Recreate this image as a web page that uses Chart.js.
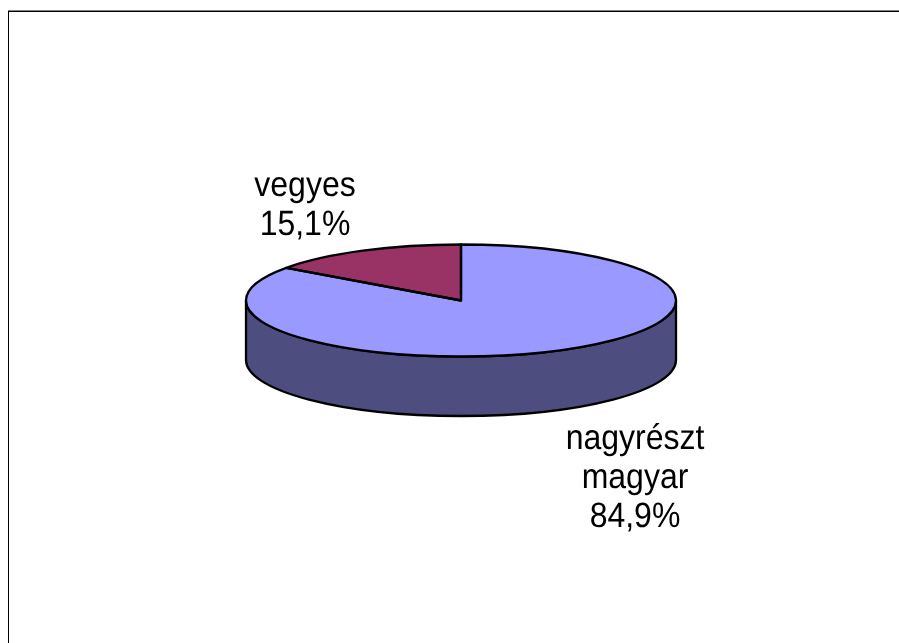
<!DOCTYPE html>
<html>
<head>
<meta charset="utf-8">
<style>
html,body{margin:0;padding:0;background:#fff;overflow:hidden}
#wrap{position:absolute;left:0;top:0;width:899px;height:643px}
</style>
<script src="https://cdn.jsdelivr.net/npm/chart.js@4"></script>
</head>
<body>
<div id="wrap"><canvas id="c" width="899" height="643"></canvas></div>
<script>
const categories = ['nagyrészt magyar', 'vegyes'];
const values = [84.9, 15.1];
const topColors = ['#9999FF', '#993366'];
const sideColors = ['#4D4D80', '#4D1A33'];
const labelLines = [['nagyrészt', 'magyar', '84,9%'], ['vegyes', '15,1%']];

const SQUASH = 56 / 215, DEPTH = 59.5;
const LABEL_POS = [[635, 448.5], [305, 196]];
const LINE_H = 39, TEXT_STRETCH = 1.1;

const pie3d = {
  id: 'pie3d',
  beforeDatasetsDraw(chart) {
    const ctx = chart.ctx;
    const arcs = chart.getDatasetMeta(0).data;
    const cx = arcs[0].x, cy = arcs[0].y, rx = arcs[0].outerRadius, ry = rx * SQUASH;
    // visible wall of the disc (front half only)
    ctx.save();
    ctx.lineJoin = 'round';
    arcs.forEach((a, i) => {
      for (const k of [-2, 0, 2]) {
        const s = Math.max(a.startAngle + k * Math.PI, 0);
        const e = Math.min(a.endAngle + k * Math.PI, Math.PI);
        if (e <= s) continue;
        ctx.beginPath();
        ctx.ellipse(cx, cy, rx, ry, 0, s, e);
        ctx.ellipse(cx, cy + DEPTH, rx, ry, 0, e, s, true);
        ctx.closePath();
        ctx.fillStyle = sideColors[i];
        ctx.fill();
        ctx.strokeStyle = '#000';
        ctx.lineWidth = 2.3;
        ctx.stroke();
      }
    });
    ctx.restore();
    // squash the library's own slices into the disc's top face
    ctx.save();
    ctx.translate(cx, cy);
    ctx.scale(1, SQUASH);
    ctx.translate(-cx, -cy);
  },
  afterDatasetsDraw(chart) {
    const ctx = chart.ctx;
    ctx.restore();
    const arcs = chart.getDatasetMeta(0).data;
    ctx.save();
    ctx.strokeStyle = '#000';
    ctx.lineWidth = 2.3;
    ctx.lineJoin = 'round';
    arcs.forEach(a => {
      const rx = a.outerRadius, ry = rx * SQUASH;
      ctx.beginPath();
      ctx.moveTo(a.x, a.y);
      ctx.ellipse(a.x, a.y, rx, ry, 0, a.startAngle, a.endAngle);
      ctx.closePath();
      ctx.stroke();
    });
    ctx.fillStyle = '#000';
    ctx.font = '32px "Liberation Sans", Arial, sans-serif';
    ctx.textRendering = 'geometricPrecision';
    ctx.textAlign = 'center';
    ctx.textBaseline = 'alphabetic';
    labelLines.forEach((lines, i) => {
      lines.forEach((t, j) => {
        ctx.save();
        ctx.translate(LABEL_POS[i][0], LABEL_POS[i][1] + j * LINE_H);
        ctx.scale(1, TEXT_STRETCH);
        ctx.fillText(t, 0, 0);
        ctx.restore();
      });
    });
    // chart frame, running off the right and bottom edges
    ctx.fillStyle = '#808080';
    ctx.fillRect(8, 10, 891, 1);
    ctx.fillStyle = '#000';
    ctx.fillRect(8, 11, 891, 1);
    ctx.fillRect(8, 11, 1, 632);
    ctx.restore();
  }
};

new Chart(document.getElementById('c'), {
  type: 'pie',
  data: {
    labels: categories,
    datasets: [{ data: values, backgroundColor: topColors, borderWidth: 0, hoverOffset: 0 }]
  },
  options: {
    responsive: false,
    animation: false,
    radius: 215,
    layout: { padding: { left: 23, right: 0, top: 0, bottom: 42 } },
    plugins: { legend: { display: false }, title: { display: false }, tooltip: { enabled: false } }
  },
  plugins: [pie3d]
});
</script>
</body>
</html>
